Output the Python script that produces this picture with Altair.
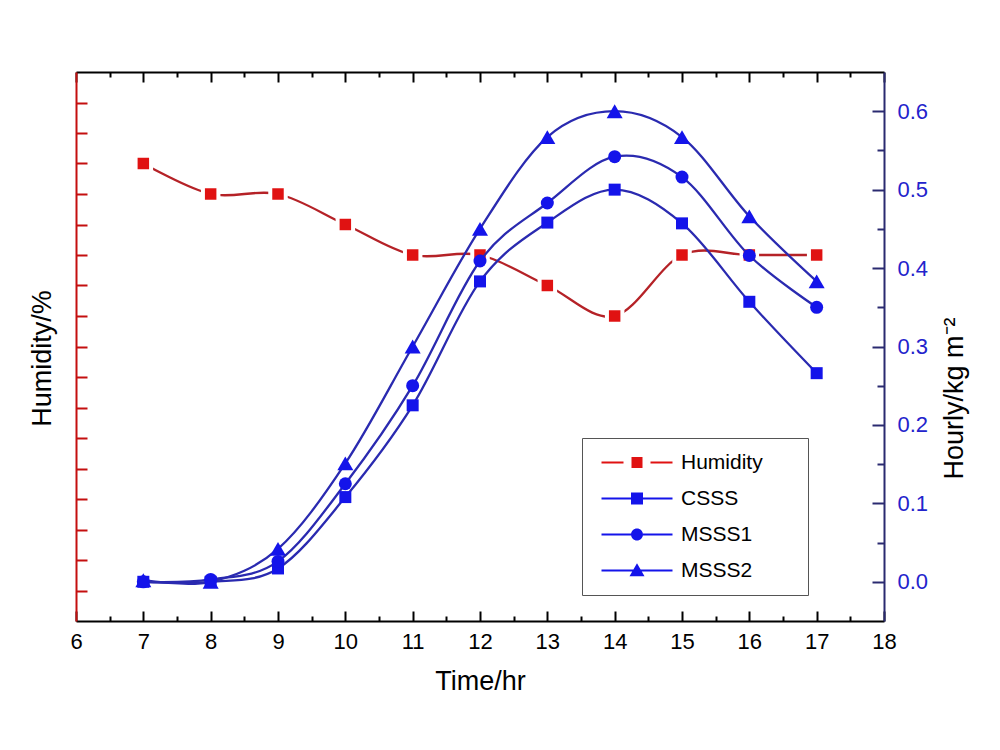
import altair as alt
import pandas as pd

# ---------------- data ----------------
hours = [7, 8, 9, 10, 11, 12, 13, 14, 15, 16, 17]
humidity = [75, 70, 70, 65, 60, 60, 55, 50, 60, 60, 60]
csss = [0.0, 0.0, 0.017, 0.108, 0.225, 0.383, 0.458, 0.500, 0.457, 0.357, 0.266]
msss1 = [0.0, 0.003, 0.026, 0.125, 0.250, 0.409, 0.483, 0.542, 0.516, 0.416, 0.350]
msss2 = [0.002, 0.0, 0.042, 0.151, 0.300, 0.450, 0.567, 0.600, 0.567, 0.466, 0.383]
series_names = ["Humidity", "CSSS", "MSSS1", "MSSS2"]

x_ticks = list(range(6, 19))
x_minor = [6.5 + i for i in range(12)]
hum_ticks = list(range(5, 90, 5))
b_ticks = [0.0, 0.1, 0.2, 0.3, 0.4, 0.5, 0.6]
b_minor = [0.05, 0.15, 0.25, 0.35, 0.45, 0.55]

# ---------------- style ----------------
W, H = 808, 549
RED_PT = "#e01212"
RED_LINE = "#b52227"
RED_AX = "#c40f0f"
BLUE_PT = "#1414ea"
BLUE_LINE = "#2a2ab0"
NAVY = "#2a2a70"
BLUE_LBL = "#2323cc"
TICK_FS = 22
TITLE_FS = 27

hum_df = pd.DataFrame({"hour": hours, "humidity": humidity})
blue_rows = []
for name, vals in [("CSSS", csss), ("MSSS1", msss1), ("MSSS2", msss2)]:
    for h, v in zip(hours, vals):
        blue_rows.append({"series": name, "hour": h, "value": v})
blue_df = pd.DataFrame(blue_rows)
leg_df = pd.DataFrame({"series": series_names, "hour": [7] * 4})

XS = alt.Scale(domain=[6, 18], nice=False, zero=False)
YH = alt.Scale(domain=[0, 90], nice=False, zero=False)
YB = alt.Scale(domain=[-0.05, 0.65], nice=False, zero=False)


def xenc(axis):
    return alt.X("hour:Q", scale=XS, axis=axis)


def yh(axis):
    return alt.Y("humidity:Q", scale=YH, axis=axis)


def yb(axis):
    return alt.Y("value:Q", scale=YB, axis=axis)


# ---------------- axes ----------------
x_label_axis = alt.Axis(orient="bottom", values=x_ticks, format="d", ticks=False,
                        domain=True, domainColor="black", domainWidth=2,
                        labelFontSize=TICK_FS, labelColor="black", labelPadding=10,
                        labelFlush=False, title="Time/hr", titleFontSize=TITLE_FS,
                        titleFontWeight="normal", titlePadding=16, titleColor="black",
                        grid=False)
x_in_bottom_major = alt.Axis(orient="top", offset=-H, values=x_ticks, labels=False,
                             domain=False, tickSize=10, tickWidth=2, tickColor="black",
                             title="", grid=False)
x_in_bottom_minor = alt.Axis(orient="top", offset=-H, values=x_minor, labels=False,
                             domain=False, tickSize=5, tickWidth=2, tickColor="black",
                             title="", grid=False)
x_in_top_major = alt.Axis(orient="bottom", offset=-H, values=x_ticks, labels=False,
                          domain=True, domainColor="black", domainWidth=2,
                          tickSize=10, tickWidth=2, tickColor="black",
                          title="", grid=False)
x_in_top_minor = alt.Axis(orient="bottom", offset=-H, values=x_minor, labels=False,
                          domain=False, tickSize=5, tickWidth=2, tickColor="black",
                          title="", grid=False)

y_left_title = alt.Axis(orient="left", labels=False, ticks=False, domain=True,
                        domainColor=RED_AX, domainWidth=2, title="Humidity/%",
                        titleFontSize=TITLE_FS, titleFontWeight="normal", titlePadding=20,
                        titleY=286, titleColor="black", grid=False)
y_left_ticks = alt.Axis(orient="right", offset=-W, values=hum_ticks, labels=False,
                        domain=False, tickSize=11, tickWidth=2, tickColor=RED_AX,
                        title="", grid=False)

y_right_labels = alt.Axis(orient="right", values=b_ticks, format=".1f", ticks=False,
                          domain=True, domainColor=NAVY, domainWidth=2,
                          labelColor=BLUE_LBL, labelFontSize=TICK_FS, labelPadding=13,
                          title="Hourly/kg m⁻²", titleAngle=270, titleBaseline="top",
                          titleFontSize=TITLE_FS, titleFontWeight="normal",
                          titlePadding=14, titleY=326, titleColor="black", grid=False)
y_right_major = alt.Axis(orient="left", offset=-W, values=b_ticks, labels=False,
                         domain=False, tickSize=12, tickWidth=2, tickColor=NAVY,
                         title="", grid=False)
y_right_minor = alt.Axis(orient="left", offset=-W, values=b_minor, labels=False,
                         domain=False, tickSize=7, tickWidth=2, tickColor=NAVY,
                         title="", grid=False)

# ---------------- layers ----------------
hum_line = alt.Chart(hum_df).mark_line(interpolate="cardinal", color=RED_LINE,
                                       strokeWidth=2.3).encode(
    x=xenc(x_label_axis), y=yh(y_left_title))
hum_halo = alt.Chart(hum_df).mark_square(size=380, color="white", opacity=1).encode(
    x=xenc(None), y=yh(None))
hum_pts = alt.Chart(hum_df).mark_square(size=132, color=RED_PT, opacity=1).encode(
    x=xenc(None), y=yh(None))

blue_lines = alt.Chart(blue_df).mark_line(interpolate="cardinal", color=BLUE_LINE,
                                          strokeWidth=2.3).encode(
    x=xenc(None), y=yb(y_right_labels), detail="series:N")

shape_of = {"CSSS": ("square", 144), "MSSS1": ("circle", 169), "MSSS2": ("triangle-up", 256)}
blue_pts = []
for name in ["CSSS", "MSSS1", "MSSS2"]:
    shp, sz = shape_of[name]
    blue_pts.append(
        alt.Chart(blue_df).transform_filter(alt.datum.series == name)
        .mark_point(filled=True, shape=shp, size=sz, color=BLUE_PT, opacity=1)
        .encode(x=xenc(None), y=yb(None))
    )


# invisible layers carrying the tick-only axes
def tick_layer_x(axis):
    return alt.Chart(hum_df).mark_point(opacity=0).encode(x=xenc(axis))


def tick_layer_yh(axis):
    return alt.Chart(hum_df).mark_point(opacity=0).encode(x=xenc(None), y=yh(axis))


def tick_layer_yb(axis):
    return alt.Chart(blue_df).mark_point(opacity=0).encode(x=xenc(None), y=yb(axis))


# legend symbols: line + marker drawn as custom paths (1 unit = 5 px);
# the trailing move-to only widens the legend box
leg_paths = [
    "M-1,-0.22H3.4V0.22H-1Z M5,-1.1H7.2V1.1H5Z M8.8,-0.22H13.2V0.22H8.8Z M37.4,0",
    "M-1,-0.22H4.9V0.22H-1Z M4.9,-1.2H7.3V1.2H4.9Z M7.3,-0.22H13.2V0.22H7.3Z",
    "M-1,-0.22H4.9V0.22H-1Z M4.9,0A1.2,1.2 0 1,1 7.3,0A1.2,1.2 0 1,1 4.9,0Z M7.3,-0.22H13.2V0.22H7.3Z",
    "M-1,-0.22H5.4V0.22H-1Z M6.1,-1.45L7.6,1.15H4.6Z M6.8,-0.22H13.2V0.22H6.8Z",
]
leg = alt.Legend(title="", orient="none", legendX=506, legendY=366, padding=14,
                 strokeColor="#555555", fillColor="white", labelFontSize=21,
                 labelColor="black", labelOffset=64, rowPadding=14, symbolSize=100,
                 symbolStrokeWidth=0, symbolOpacity=1)
legend_layer = alt.Chart(leg_df).transform_filter("false").mark_point(
    filled=True, size=100, opacity=1).encode(
    x=xenc(None),
    fill=alt.Fill("series:N", scale=alt.Scale(domain=series_names,
                                             range=[RED_PT, BLUE_PT, BLUE_PT, BLUE_PT]),
                  legend=leg),
    shape=alt.Shape("series:N", scale=alt.Scale(domain=series_names, range=leg_paths),
                    legend=leg),
)

chart = alt.layer(
    tick_layer_x(x_in_bottom_major),
    tick_layer_x(x_in_bottom_minor),
    tick_layer_x(x_in_top_major),
    tick_layer_x(x_in_top_minor),
    tick_layer_yh(y_left_ticks),
    tick_layer_yb(y_right_major),
    tick_layer_yb(y_right_minor),
    hum_line, hum_halo, hum_pts,
    blue_lines, *blue_pts,
    legend_layer,
).resolve_scale(y="independent").resolve_axis(x="independent", y="independent").properties(
    width=W, height=H,
    padding={"left": 20, "top": 63, "right": 5, "bottom": 5},
).configure(font="Liberation Sans").configure_view(strokeOpacity=0)

chart.save("out.html", embed_options={"renderer": "svg", "actions": False})
